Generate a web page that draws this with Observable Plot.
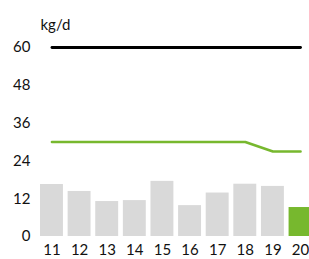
<!DOCTYPE html>
<html>
<head>
<meta charset="utf-8">
<script src="https://cdn.jsdelivr.net/npm/d3@7"></script>
<script src="https://cdn.jsdelivr.net/npm/@observablehq/plot@0.6"></script>
<style>
  html, body { margin: 0; padding: 0; background: #fff; overflow: hidden; }
  #chart svg { display: block; }
</style>
</head>
<body>
<div id="chart"></div>
<script>
const days = ["11","12","13","14","15","16","17","18","19","20"];
const actual = [16.5, 14.3, 11.1, 11.4, 17.5, 9.8, 13.8, 16.6, 15.9, 9.2];
const target = [30, 30, 30, 30, 30, 30, 30, 30, 27, 27];
const limit = [60, 60, 60, 60, 60, 60, 60, 60, 60, 60];
const yTicks = [0, 12, 24, 36, 48, 60];
const unit = "kg/d";

const bars = days.map((d, i) => ({day: d, value: actual[i], last: i === days.length - 1}));
const tgt = days.map((d, i) => ({day: d, value: target[i]}));
const lim = days.map((d, i) => ({day: d, value: limit[i]}));

const chart = Plot.plot({
  width: 309,
  height: 259,
  marginLeft: 40,
  marginRight: 0,
  marginTop: 25,
  marginBottom: 23,
  style: {fontFamily: "Lato, sans-serif", fontSize: "15px", color: "#111", background: "#fff"},
  x: {domain: days, range: [40, 311.5], paddingInner: 0.17, paddingOuter: 0, round: false, axis: null},
  y: {domain: [0, 60], range: [236, 47], axis: null},
  marks: [
    Plot.barY(bars, {x: "day", y: "value", fill: d => d.last ? "#77b82e" : "#d9d9d9"}),
    Plot.lineY(tgt, {x: "day", y: "value", stroke: "#77b82e", strokeWidth: 2.6}),
    Plot.lineY(lim, {x: "day", y: "value", stroke: "#000", strokeWidth: 2.8}),
    Plot.axisY({ticks: yTicks, tickSize: 0, tickPadding: 10, label: null, fontSize: 15}),
    Plot.axisX({tickSize: 0, tickPadding: 8, label: null, fontSize: 15}),
    Plot.text([unit], {frameAnchor: "top-left", text: d => d, textAnchor: "start", lineAnchor: "middle", fontSize: 15})
  ]
});
document.getElementById("chart").appendChild(chart);
</script>
</body>
</html>
